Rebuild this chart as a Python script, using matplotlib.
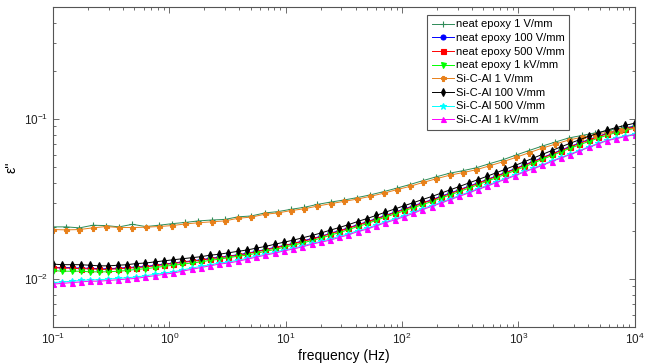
import numpy as np
import matplotlib
matplotlib.use("Agg")
import matplotlib.pyplot as plt
from matplotlib.ticker import LogLocator

plt.rcParams['font.family'] = ['Liberation Sans', 'DejaVu Sans']
plt.rcParams['mathtext.default'] = 'regular'

# frequency grids (Hz): dense sweep for the biased runs, coarser for 1 V/mm
freq_fine = np.logspace(-1, 4, 64)
freq_coarse = np.logspace(-1, 4, 45)

# epsilon'' values, in units of 1e-3
neat_1V = [21.2, 21.2, 20.9, 21.7, 21.6, 21.2, 22.0, 21.3, 21.7, 22.2, 22.6, 23.1,
           23.4, 23.6, 24.5, 24.8, 25.9, 26.4, 27.3, 28.1, 29.3, 30.3, 31.2, 32.3,
           33.6, 35.2, 37.0, 39.0, 41.3, 43.6, 45.9, 47.6, 49.6, 52.6, 55.6, 59.5,
           63.6, 67.8, 71.9, 76.2, 79.0, 82.0, 85.0, 87.9, 90.3]
sical_1V = [20.4, 20.3, 20.4, 20.9, 21.3, 21.0, 21.0, 21.1, 21.3, 21.6, 22.1, 22.5,
            22.8, 23.1, 24.0, 24.4, 25.4, 25.9, 26.8, 27.5, 28.6, 29.6, 30.6, 31.6,
            32.9, 34.4, 36.2, 38.0, 40.2, 42.4, 44.6, 46.3, 48.2, 51.0, 54.0, 57.6,
            61.6, 65.8, 69.8, 74.0, 77.0, 80.0, 83.0, 85.6, 87.8]

sical_100V = [12.4, 12.3, 12.3, 12.3, 12.2, 12.1, 12.1, 12.2, 12.3, 12.5, 12.6, 12.8,
              13.0, 13.2, 13.4, 13.6, 13.8, 14.1, 14.3, 14.6, 14.9, 15.2, 15.6, 16.0,
              16.5, 17.0, 17.5, 18.1, 18.7, 19.4, 20.2, 21.0, 21.9, 22.9, 23.9, 25.0,
              26.2, 27.4, 28.7, 30.0, 31.4, 32.8, 34.4, 36.1, 37.9, 39.8, 41.8, 43.9,
              46.2, 48.6, 51.2, 54.0, 57.0, 60.2, 63.5, 67.0, 70.6, 74.2, 77.9, 81.6,
              85.3, 88.6, 91.5, 94.2]
neat_100V = [11.8, 11.8, 11.8, 11.7, 11.7, 11.6, 11.6, 11.7, 11.8, 11.9, 12.0, 12.2,
             12.4, 12.6, 12.8, 13.0, 13.2, 13.5, 13.7, 13.9, 14.2, 14.5, 14.9, 15.3,
             15.8, 16.2, 16.7, 17.3, 17.9, 18.5, 19.3, 20.1, 20.9, 21.9, 22.8, 23.9,
             25.0, 26.2, 27.4, 28.7, 30.0, 31.3, 32.9, 34.5, 36.2, 38.0, 39.9, 41.9,
             44.1, 46.4, 48.9, 51.6, 54.4, 57.5, 60.6, 64.0, 67.4, 70.9, 74.4, 77.9,
             81.5, 84.6, 87.4, 90.0]
neat_500V = [11.8, 11.7, 11.7, 11.6, 11.6, 11.5, 11.5, 11.6, 11.7, 11.8, 11.9, 12.1,
             12.3, 12.5, 12.7, 12.9, 13.1, 13.4, 13.6, 13.8, 14.1, 14.4, 14.8, 15.2,
             15.6, 16.1, 16.6, 17.2, 17.7, 18.4, 19.2, 19.9, 20.8, 21.7, 22.7, 23.7,
             24.8, 26.0, 27.2, 28.4, 29.8, 31.1, 32.6, 34.2, 35.9, 37.7, 39.6, 41.6,
             43.8, 46.1, 48.5, 51.2, 54.0, 57.1, 60.2, 63.5, 66.9, 70.3, 73.8, 77.4,
             80.9, 84.0, 86.7, 89.3]
neat_1kV = [11.3, 11.2, 11.2, 11.2, 11.1, 11.1, 11.1, 11.2, 11.3, 11.5, 11.6, 11.8,
            12.0, 12.2, 12.4, 12.6, 12.8, 13.1, 13.3, 13.6, 13.9, 14.1, 14.5, 14.9,
            15.3, 15.8, 16.3, 16.8, 17.4, 18.0, 18.8, 19.5, 20.4, 21.3, 22.2, 23.3,
            24.4, 25.5, 26.7, 27.9, 29.2, 30.5, 32.0, 33.6, 35.2, 37.0, 38.9, 40.8,
            43.0, 45.2, 47.6, 50.2, 53.0, 56.0, 59.1, 62.3, 65.7, 69.0, 72.4, 75.9,
            79.3, 82.4, 85.1, 87.6]
sical_500V = [9.5, 9.6, 9.7, 9.8, 9.9, 9.9, 10.0, 10.1, 10.2, 10.3, 10.5, 10.7,
              10.9, 11.1, 11.4, 11.7, 12.0, 12.3, 12.6, 12.8, 13.1, 13.5, 13.9, 14.3,
              14.7, 15.2, 15.6, 16.1, 16.7, 17.2, 17.8, 18.5, 19.2, 20.1, 20.8, 21.8,
              22.8, 23.8, 24.9, 26.1, 27.6, 28.8, 30.2, 31.7, 33.3, 34.9, 36.7, 38.5,
              40.6, 42.5, 44.7, 47.1, 49.4, 51.9, 54.9, 57.6, 60.6, 63.6, 67.1, 70.5,
              74.0, 76.3, 78.6, 80.8]
sical_1kV = [9.3, 9.4, 9.5, 9.6, 9.7, 9.7, 9.8, 9.9, 10.0, 10.1, 10.3, 10.5,
             10.7, 10.9, 11.2, 11.5, 11.8, 12.1, 12.4, 12.6, 12.9, 13.3, 13.7, 14.1,
             14.5, 15.0, 15.4, 15.9, 16.5, 17.0, 17.5, 18.2, 18.9, 19.8, 20.5, 21.5,
             22.5, 23.4, 24.5, 25.7, 27.2, 28.4, 29.8, 31.3, 32.9, 34.5, 36.3, 38.0,
             40.1, 42.0, 44.2, 46.6, 48.9, 51.3, 54.3, 57.0, 60.0, 63.0, 66.5, 69.8,
             73.3, 75.5, 77.8, 80.0]

series = [
    (freq_coarse, neat_1V, 'neat epoxy 1 V/mm', '#2e8b57', '+'),
    (freq_fine, neat_100V, 'neat epoxy 100 V/mm', '#0000ff', 'o'),
    (freq_fine, neat_500V, 'neat epoxy 500 V/mm', '#ff0000', 's'),
    (freq_fine, neat_1kV, 'neat epoxy 1 kV/mm', '#00ff00', 'v'),
    (freq_coarse, sical_1V, 'Si-C-Al 1 V/mm', '#e8801a', 'P'),
    (freq_fine, sical_100V, 'Si-C-Al 100 V/mm', '#000000', 'd'),
    (freq_fine, sical_500V, 'Si-C-Al 500 V/mm', '#00ffff', '*'),
    (freq_fine, sical_1kV, 'Si-C-Al 1 kV/mm', '#ff00ff', '^'),
]

fig = plt.figure(figsize=(6.47, 3.64), dpi=100)
ax = fig.add_axes([0.082, 0.101, 0.899, 0.879])

for f, vals, label, color, marker in series:
    ms = 4.5 if marker in ('+', '*') else 3.6
    ax.plot(f, np.array(vals) * 1e-3, color=color, marker=marker, ms=ms,
            lw=0.7, mew=0.8, label=label)

ax.set_xscale('log')
ax.set_yscale('log')
ax.set_xlim(0.1, 1e4)
ax.set_ylim(0.005, 0.5)
ax.xaxis.set_minor_locator(LogLocator(base=10, subs=np.arange(2, 10), numticks=20))
ax.yaxis.set_minor_locator(LogLocator(base=10, subs=np.arange(2, 10), numticks=20))

for s in ax.spines.values():
    s.set_color('#555555')
    s.set_linewidth(0.8)
ax.tick_params(which='both', direction='in', top=True, right=True, colors='#555555',
               labelcolor='#222222', labelsize=8.5, width=0.6)
ax.tick_params(which='major', length=4)
ax.tick_params(which='minor', length=2.5)

ax.set_xlabel('frequency (Hz)', fontsize=10, labelpad=1)
ax.set_ylabel("ε''", fontsize=10)
ax.yaxis.set_label_coords(-0.06, 0.5)

leg = ax.legend(loc='upper right', bbox_to_anchor=(0.887, 0.976), borderaxespad=0,
                fontsize=8, fancybox=False, framealpha=1, edgecolor='#555555',
                labelspacing=0.33, handlelength=2.0, handletextpad=0.15,
                borderpad=0.4)
leg.get_frame().set_linewidth(0.8)

fig.savefig('out.png', dpi=100)
